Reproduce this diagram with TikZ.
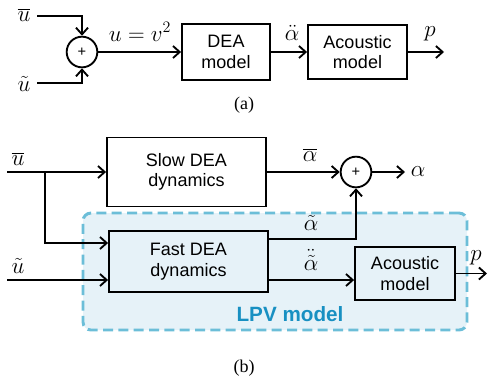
\documentclass[tikz,border=0pt]{standalone}
\usepackage{fontspec}
\setmainfont{Liberation Serif}
\setsansfont{Liberation Sans}
\usetikzlibrary{arrows.meta,calc}
\definecolor{lpvfill}{RGB}{230,242,248}
\definecolor{lpvline}{RGB}{108,190,216}
\definecolor{lpvtext}{RGB}{24,144,194}

\begin{document}
\begin{tikzpicture}[x=0.75pt,y=-0.75pt,line width=1.4pt,
  blk/.style={draw,rectangle,inner sep=0pt,align=center,
    font=\sffamily\fontsize{13.5}{15.5}\selectfont},
  sumnode/.style={draw,circle,inner sep=0pt,minimum size=23pt,
    font=\sffamily\fontsize{11}{11}\selectfont},
  sig/.style={inner sep=0pt,font=\fontsize{18}{18}\selectfont},
  captxt/.style={inner sep=0pt,font=\fontsize{13.5}{13.5}\selectfont},
  flow/.style={-{Straight Barb[length=5pt,width=9pt]}}]
\useasboundingbox (0,0) rectangle (488,387);

% ---------- (a) ----------
\node[sumnode] (sumA) at (82,52) {+};
\node[blk,minimum width=88*0.75pt,minimum height=56*0.75pt] (deaA) at (226,52) {DEA\\model};
\node[blk,minimum width=99*0.75pt,minimum height=54*0.75pt] (acA) at (357.5,52) {Acoustic\\model};

\coordinate (aIn1) at (37,16);
\coordinate (aIn2) at (37,83);
\coordinate (aOut) at (444,52);
\node[sig] (lUbarA) at (24,15) {$\overline{u}$};
\node[sig] (lUtilA) at (24,84) {$\tilde{u}$};
\node[sig] (lUV) at (140,32) {$u = v^2$};
\node[sig] (lAddA) at (292,33) {$\ddot{\alpha}$};
\node[sig] (lPA) at (430,34) {$p$};

\draw[flow] (aIn1) -| (sumA.north);
\draw[flow] (aIn2) -| (sumA.south);
\draw[flow] (sumA.east) -- (deaA.west);
\draw[flow] (deaA.east) -- (acA.west);
\draw[flow] (acA.east) -- (aOut);

\node[captxt] (capA) at (244,105) {(a)};

% ---------- (b) ----------
\node[draw=lpvline,fill=lpvfill,line width=2.2pt,dash pattern=on 7.5pt off 4pt,
  rounded corners=6pt,minimum width=384*0.75pt,minimum height=117*0.75pt,inner sep=0pt]
  (lpv) at (275,271.5) {};
\node[inner sep=0pt,text=lpvtext,font=\sffamily\bfseries\fontsize{15.5}{15.5}\selectfont]
  (lpvlbl) at (290,314) {LPV model};

\node[blk,minimum width=159*0.75pt,minimum height=69*0.75pt] (slow) at (186.5,172) {Slow DEA\\dynamics};
\node[blk,minimum width=159*0.75pt,minimum height=61*0.75pt] (fast) at (188.5,261.5) {Fast DEA\\dynamics};
\node[blk,minimum width=100*0.75pt,minimum height=53*0.75pt] (acB) at (405,273.5) {Acoustic\\model};
\node[sumnode] (sumB) at (356,172) {+};

\coordinate (bIn1) at (7,172);
\coordinate (bIn2) at (7,280);
\coordinate (br) at (45,172);
\coordinate (bOutA) at (405,172);
\coordinate (bOutP) at (487,273.5);

\node[sig] (lUbarB) at (18,159) {$\overline{u}$};
\node[sig] (lUtilB) at (18,266) {$\tilde{u}$};
\node[sig] (lAbar) at (310,155) {$\overline{\alpha}$};
\node[sig] (lAlpha) at (418,172) {$\alpha$};
\node[sig] (lAtil) at (311,223) {$\tilde{\alpha}$};
\node[sig] (lAddt) at (311,260) {$\ddot{\tilde{\alpha}}$};
\node[sig] (lPB) at (476,258) {$p$};

\draw[flow] (bIn1) -- (slow.west);
\draw[flow] (br) |- ($(fast.west)+(0,-18.5)$);
\draw[flow] (bIn2) -- (bIn2 -| fast.west);
\draw[flow] (slow.east) -- (sumB.west);
\draw[flow] (sumB.east) -- (bOutA);
\draw[flow] ($(fast.east)+(0,-22.5)$) -| (sumB.south);
\draw[flow] ($(fast.east)+(0,18.5)$) coordinate (fo) -- (fo -| acB.west);
\draw[flow] (acB.east) -- (bOutP);

\node[captxt] (capB) at (244,368) {(b)};
\end{tikzpicture}
\end{document}
